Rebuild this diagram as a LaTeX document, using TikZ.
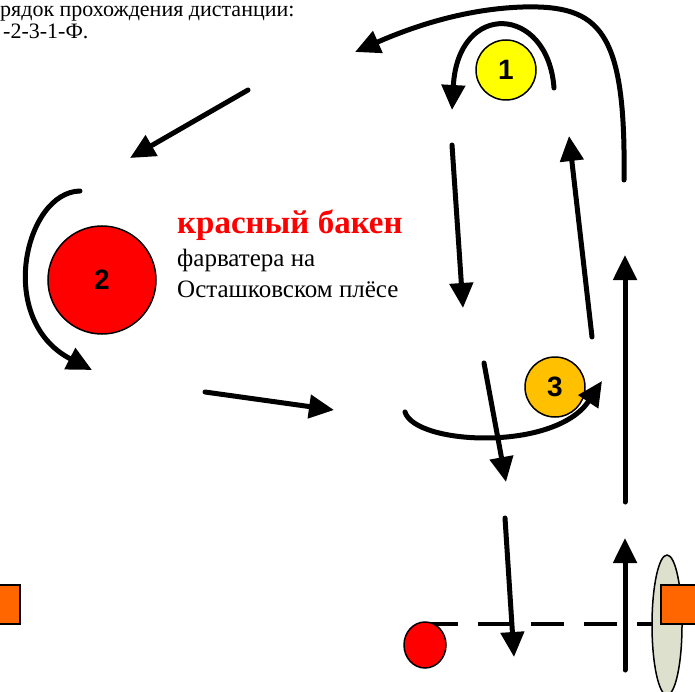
\documentclass[tikz,border=0pt]{standalone}
\usepackage{fontspec}
\setmainfont{Liberation Serif}
\newfontfamily\arialfont{Liberation Sans}
\usetikzlibrary{arrows.meta}

\definecolor{buoyred}{HTML}{FF0000}
\definecolor{buoyyellow}{HTML}{FFFF00}
\definecolor{buoyamber}{HTML}{FFC000}
\definecolor{gateorange}{HTML}{FF6600}
\definecolor{gategrey}{HTML}{DDE0CC}

\begin{document}
\begin{tikzpicture}[x=1pt,y=-1pt,
    buoy/.style={circle,draw,line width=1.5pt,inner sep=0pt,
      font=\arialfont\bfseries\fontsize{28}{28}\selectfont},
    route/.style={line width=5pt,line cap=round,
      -{Triangle[length=25pt,width=23pt]}},
    note/.style={anchor=base west,inner sep=0pt,
      font=\fontsize{25}{25}\selectfont}]
  \clip (0,0) rectangle (695,692);

  % heading
  \node[note,font=\fontsize{22}{22}\selectfont] (h1) at (0,17) {рядок прохождения дистанции:};
  \node[note,font=\fontsize{22}{22}\selectfont] (h2) at (3,39) {-2-3-1-Ф.};

  % buoys
  \draw
    (506,70) node[buoy,fill=buoyyellow,minimum size=60pt] (b1){1}
    (102,280) node[buoy,fill=buoyred,minimum size=108pt] (b2){2}
    (555,387) node[buoy,fill=buoyamber,minimum size=60pt] (b3){3};

  \node[note,text=buoyred,font=\bfseries\fontsize{33}{33}\selectfont] (t1) at (177,234) {красный бакен};
  \node[note] (t2) at (177,267) {фарватера на};
  \node[note] (t3) at (177,298) {Осташковском плёсе};

  % start / finish line
  \draw[line width=4pt,dash pattern=on 33pt off 20pt] (425,624) -- (655,624);
  \draw[line width=1.5pt,fill=buoyred] (425,645) ellipse [x radius=21,y radius=23];
  \draw[line width=1.5pt,fill=gategrey] (667,625) ellipse [x radius=15,y radius=70];
  \draw[line width=1.5pt,fill=gateorange] (661,585) rectangle (705,624);
  \draw[line width=1.5pt,fill=gateorange] (-10,585) rectangle (20,624);

  % route points
  \coordinate (s0) at (625,670);
  \coordinate (s1) at (625,538);
  \coordinate (a0) at (625,502);
  \coordinate (a1) at (625,255);
  \coordinate (c0) at (592,337);
  \coordinate (c1) at (569,136);
  \coordinate (d0) at (554,88);
  \coordinate (d1) at (452,110);
  \coordinate (e0) at (452,145);
  \coordinate (e1) at (463,308);
  \coordinate (f0) at (484,363);
  \coordinate (f1) at (506,482);
  \coordinate (g0) at (505,518);
  \coordinate (g1) at (514,657);
  \coordinate (k0) at (624,180);
  \coordinate (k1) at (355,52);
  \coordinate (m0) at (248,90);
  \coordinate (m1) at (130,158);
  \coordinate (n0) at (80,191);
  \coordinate (n1) at (92,370);
  \coordinate (p0) at (205,392);
  \coordinate (p1) at (334,410);
  \coordinate (q0) at (405,412);
  \coordinate (q1) at (602,381);

  \begin{scope}[route]
    \draw (s0) to (s1);
    \draw (a0) to (a1);
    \draw (c0) to (c1);
    \draw (d0) .. controls (548,5) and (458,0) .. (d1);
    \draw (e0) to (e1);
    \draw (f0) to (f1);
    \draw (g0) to (g1);
    \draw (k0) .. controls (626,30) and (600,5) .. (523,7)
      .. controls (460,9) and (405,30) .. (k1);
    \draw (m0) to (m1);
    \draw (n0) .. controls (25,192) and (-5,320) .. (n1);
    \draw (p0) to (p1);
    \draw (q0) .. controls (415,445) and (555,452) .. (q1);
  \end{scope}
\end{tikzpicture}
\end{document}
